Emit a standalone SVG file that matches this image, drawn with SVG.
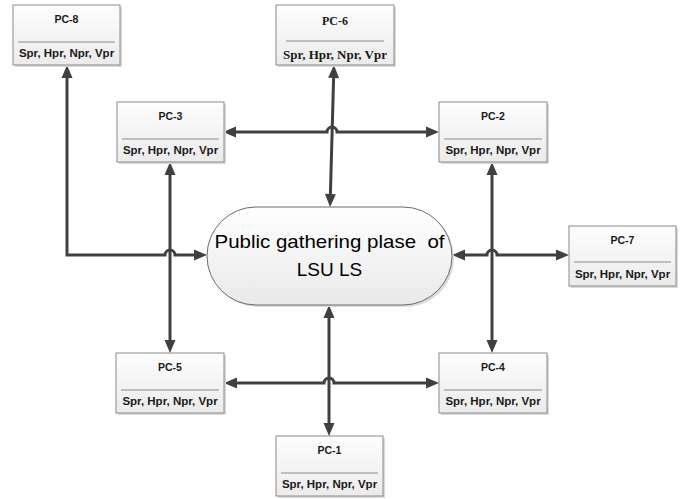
<svg xmlns="http://www.w3.org/2000/svg" width="686" height="499" viewBox="0 0 686 499">
<defs>
<linearGradient id="gBox" x1="0" y1="0" x2="0" y2="1">
<stop offset="0" stop-color="#fdfdfd"/>
<stop offset="1" stop-color="#ebebeb"/>
</linearGradient>
<linearGradient id="gEll" x1="0" y1="0" x2="0" y2="1">
<stop offset="0" stop-color="#ffffff"/>
<stop offset="1" stop-color="#e9e9e9"/>
</linearGradient>
<marker id="arr" markerUnits="userSpaceOnUse" markerWidth="14" markerHeight="12" refX="0" refY="5.5" orient="auto-start-reverse" viewBox="0 0 14 11" overflow="visible">
<path d="M0,0 L13,5.5 L0,11 z" fill="#404040"/>
</marker>
</defs>
<style>
.box{fill:url(#gBox);stroke:#8a8a8a;stroke-width:1}
.shadow{fill:#dadada}
.sep{stroke:#8a8a8a;stroke-width:1.2}
.t{font-family:"Liberation Sans",Arial,sans-serif;font-weight:bold;font-size:10.5px;fill:#1a1a1a;text-anchor:middle}
.b{font-family:"Liberation Sans",Arial,sans-serif;font-weight:bold;font-size:11.5px;fill:#1a1a1a;text-anchor:middle}
.ts{font-family:"Liberation Serif","Times New Roman",serif;font-weight:bold;font-size:12px;fill:#1a1a1a;text-anchor:middle}
.bs{font-family:"Liberation Serif","Times New Roman",serif;font-weight:bold;font-size:13px;fill:#1a1a1a;text-anchor:middle}
.c{fill:none;stroke:#404040;stroke-width:3;marker-start:url(#arr);marker-end:url(#arr)}
.main{font-family:"Liberation Sans",Arial,sans-serif;font-size:19px;fill:#000;text-anchor:middle}
</style>

<g id="connectors">
<path class="c" d="M67,78 L67,255 L165,255 A5,5 0 0 1 175,255 L194,255"/>
<path class="c" d="M170,175 L170,340"/>
<path class="c" d="M236,132 L327,132 A5,5 0 0 1 337,132 L426,132"/>
<path class="c" d="M333.6,78 L330.4,194"/>
<path class="c" d="M492,175 L492,340"/>
<path class="c" d="M465,255 L487,255 A5,5 0 0 1 497,255 L556,255"/>
<path class="c" d="M329,318 L329,423"/>
<path class="c" d="M237,383 L324,383 A5,5 0 0 1 334,383 L426,383"/>
</g>

<g id="center">
<rect x="209" y="209" width="245" height="98" rx="49" ry="49" fill="#dcdcdc"/>
<rect x="207" y="207" width="245" height="98" rx="49" ry="49" fill="url(#gEll)" stroke="#6a6a6a" stroke-width="1"/>
<text class="main" x="329.5" y="248" xml:space="preserve" textLength="230" lengthAdjust="spacingAndGlyphs">Public gathering plase  of</text>
<text class="main" x="329.5" y="276">LSU LS</text>
</g>

<g id="pc8">
<rect class="shadow" x="15" y="7" width="107" height="60"/>
<rect class="box" x="13" y="5" width="107" height="60"/>
<text class="t" x="66.5" y="23">PC-8</text>
<line class="sep" x1="18" y1="42" x2="115" y2="42"/>
<text class="b" x="66.5" y="57">Spr, Hpr, Npr, Vpr</text>
</g>

<g id="pc6">
<rect class="shadow" x="278" y="7" width="118" height="60"/>
<rect class="box" x="276" y="5" width="118" height="60"/>
<text class="ts" x="335" y="25">PC-6</text>
<line class="sep" x1="286" y1="41" x2="384" y2="41" stroke="#333"/>
<text class="bs" x="335" y="59">Spr, Hpr, Npr, Vpr</text>
</g>

<g id="pc3">
<rect class="shadow" x="119" y="104" width="107" height="60"/>
<rect class="box" x="117" y="102" width="107" height="60"/>
<text class="t" x="170.5" y="120">PC-3</text>
<line class="sep" x1="122" y1="139" x2="219" y2="139"/>
<text class="b" x="170.5" y="154">Spr, Hpr, Npr, Vpr</text>
</g>

<g id="pc2">
<rect class="shadow" x="441" y="104" width="108" height="60"/>
<rect class="box" x="439" y="102" width="108" height="60"/>
<text class="t" x="493" y="120">PC-2</text>
<line class="sep" x1="444" y1="139" x2="542" y2="139"/>
<text class="b" x="493" y="154">Spr, Hpr, Npr, Vpr</text>
</g>

<g id="pc7">
<rect class="shadow" x="571" y="228" width="107" height="60"/>
<rect class="box" x="569" y="226" width="107" height="60"/>
<text class="t" x="622.5" y="244">PC-7</text>
<line class="sep" x1="574" y1="262" x2="671" y2="262"/>
<text class="b" x="622.5" y="278">Spr, Hpr, Npr, Vpr</text>
</g>

<g id="pc5">
<rect class="shadow" x="118" y="355" width="108" height="60"/>
<rect class="box" x="116" y="353" width="108" height="60"/>
<text class="t" x="170" y="371">PC-5</text>
<line class="sep" x1="121" y1="390" x2="219" y2="390"/>
<text class="b" x="170" y="405">Spr, Hpr, Npr, Vpr</text>
</g>

<g id="pc4">
<rect class="shadow" x="441" y="355" width="108" height="60"/>
<rect class="box" x="439" y="353" width="108" height="60"/>
<text class="t" x="493" y="371">PC-4</text>
<line class="sep" x1="444" y1="390" x2="542" y2="390"/>
<text class="b" x="493" y="405">Spr, Hpr, Npr, Vpr</text>
</g>

<g id="pc1">
<rect class="shadow" x="278" y="438" width="107" height="60"/>
<rect class="box" x="276" y="436" width="107" height="60"/>
<text class="t" x="329.5" y="454">PC-1</text>
<line class="sep" x1="281" y1="473" x2="378" y2="473"/>
<text class="b" x="329.5" y="488">Spr, Hpr, Npr, Vpr</text>
</g>
</svg>
